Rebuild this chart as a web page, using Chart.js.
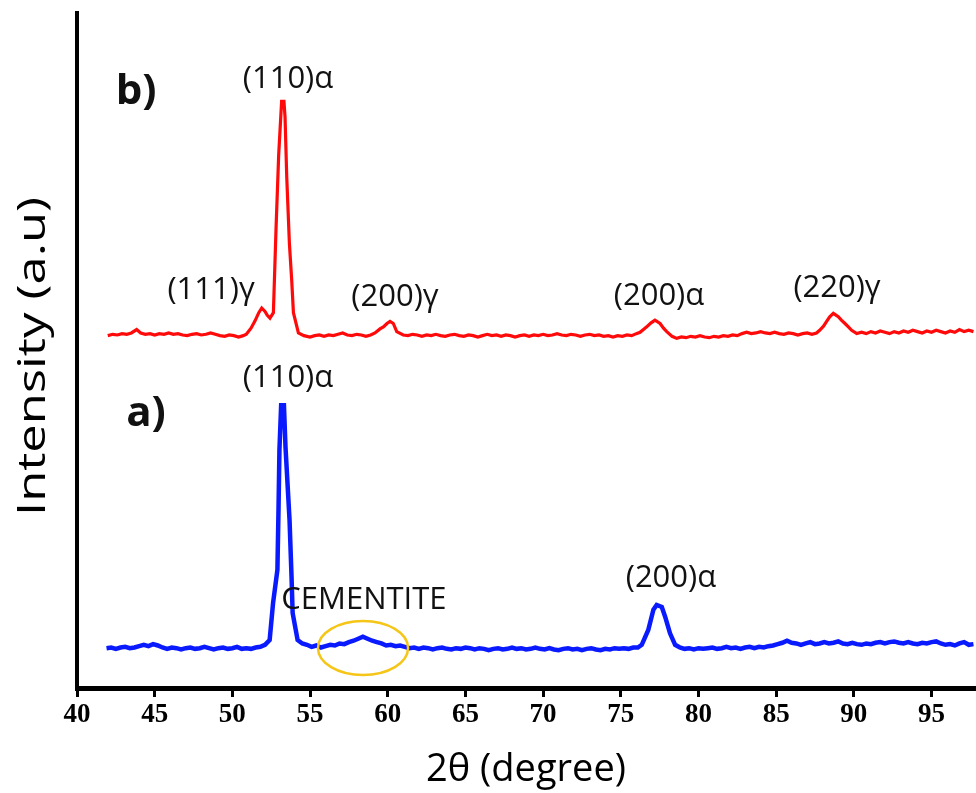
<!DOCTYPE html>
<html>
<head>
<meta charset="utf-8">
<script src="https://cdn.jsdelivr.net/npm/chart.js@4.4.0/dist/chart.umd.min.js"></script>
<style>
  html, body { margin: 0; padding: 0; background: #fff; }
  canvas { display: block; }
</style>
</head>
<body>
<canvas id="xrdChart" width="976" height="793"></canvas>
<script>
// XRD patterns: (a) blue trace, (b) red trace stacked above it
const tickValues = [40, 45, 50, 55, 60, 65, 70, 75, 80, 85, 90, 95];

// sample a) [2theta, intensity]
const sampleA = [
  [41.9, 5.9], [42.2, 6.0], [42.5, 5.8], [42.8, 6.0], [43.1, 6.1], [43.4, 5.9], [43.7, 6.0],
  [44.0, 6.2], [44.3, 6.4], [44.6, 6.2], [44.9, 6.5], [45.2, 6.3], [45.5, 6.0], [45.8, 5.8],
  [46.1, 6.0], [46.4, 5.9], [46.7, 5.7], [47.0, 5.9], [47.3, 6.0], [47.6, 5.8], [47.9, 5.9],
  [48.2, 6.1], [48.5, 5.9], [48.8, 5.7], [49.1, 5.9], [49.4, 6.0], [49.7, 5.8], [50.0, 5.9],
  [50.3, 6.1], [50.6, 5.8], [50.9, 5.9], [51.2, 5.8], [51.5, 6.0], [51.8, 6.1], [52.1, 6.4],
  [52.4, 7.1], [52.62, 12.6], [52.9, 17.5], [52.97, 26.4], [53.03, 35.3], [53.14, 41.9],
  [53.32, 41.9], [53.42, 35.7], [53.68, 24.9], [53.81, 16.4], [53.88, 11.1], [54.2, 7.1],
  [54.5, 6.6], [54.8, 6.4], [55.1, 6.1], [55.4, 6.3], [55.7, 6.0], [56.0, 6.2], [56.3, 6.4],
  [56.6, 6.3], [56.9, 6.6], [57.2, 6.5], [57.5, 6.8], [57.8, 7.0], [58.1, 7.3], [58.4, 7.6],
  [58.7, 7.3], [59.0, 7.0], [59.3, 6.8], [59.6, 6.6], [59.9, 6.3], [60.2, 6.4], [60.5, 6.2],
  [60.8, 6.3], [61.1, 6.1], [61.4, 5.9], [61.7, 6.0], [62.0, 5.8], [62.3, 6.0], [62.6, 5.9],
  [62.9, 5.7], [63.2, 5.9], [63.5, 6.0], [63.8, 5.8], [64.1, 5.7], [64.4, 5.9], [64.7, 5.8],
  [65.0, 6.0], [65.3, 5.9], [65.6, 5.7], [65.9, 5.9], [66.2, 5.8], [66.5, 5.6], [66.8, 5.8],
  [67.1, 5.9], [67.4, 5.7], [67.7, 5.8], [68.0, 6.0], [68.3, 5.8], [68.6, 5.9], [68.9, 5.7],
  [69.2, 5.8], [69.5, 6.0], [69.8, 5.8], [70.1, 5.7], [70.4, 5.9], [70.7, 5.7], [71.0, 5.6],
  [71.3, 5.8], [71.6, 5.9], [71.9, 5.7], [72.2, 5.8], [72.5, 5.6], [72.8, 5.8], [73.1, 5.9],
  [73.4, 5.7], [73.7, 5.6], [74.0, 5.8], [74.3, 5.7], [74.6, 5.9], [74.9, 5.8], [75.2, 5.9],
  [75.5, 5.8], [75.8, 6.0], [76.1, 6.0], [76.35, 6.4], [76.77, 8.6], [77.1, 11.6], [77.31, 12.3],
  [77.64, 12.0], [77.85, 10.6], [78.17, 8.1], [78.5, 6.4], [78.8, 6.0], [79.1, 5.8], [79.4, 5.9],
  [79.7, 5.7], [80.0, 5.9], [80.3, 5.8], [80.6, 5.9], [80.9, 6.0], [81.2, 5.8], [81.5, 5.9],
  [81.8, 6.1], [82.1, 5.9], [82.4, 6.0], [82.7, 5.8], [83.0, 6.0], [83.3, 6.1], [83.6, 5.9],
  [83.9, 6.1], [84.2, 6.0], [84.5, 6.2], [84.8, 6.3], [85.1, 6.5], [85.4, 6.7], [85.7, 7.0],
  [86.0, 6.7], [86.3, 6.6], [86.6, 6.4], [86.9, 6.6], [87.2, 6.8], [87.5, 6.5], [87.8, 6.6],
  [88.1, 6.8], [88.4, 6.6], [88.7, 6.7], [89.0, 6.9], [89.3, 6.6], [89.6, 6.5], [89.9, 6.7],
  [90.2, 6.5], [90.5, 6.4], [90.8, 6.6], [91.1, 6.5], [91.4, 6.7], [91.7, 6.8], [92.0, 6.6],
  [92.3, 6.8], [92.6, 6.9], [92.9, 6.7], [93.2, 6.6], [93.5, 6.8], [93.8, 6.6], [94.1, 6.5],
  [94.4, 6.7], [94.7, 6.6], [95.0, 6.8], [95.3, 6.9], [95.6, 6.6], [95.9, 6.4], [96.2, 6.5],
  [96.5, 6.3], [96.8, 6.6], [97.1, 6.8], [97.4, 6.4], [97.7, 6.5]
];

// sample b) [2theta, intensity]
const sampleB = [
  [41.98, 6.2], [42.3, 6.4], [42.6, 6.3], [42.9, 6.5], [43.2, 6.4], [43.5, 6.6], [43.84, 7.1],
  [44.1, 6.6], [44.4, 6.4], [44.7, 6.5], [45.0, 6.3], [45.3, 6.5], [45.6, 6.4], [45.9, 6.6],
  [46.2, 6.4], [46.5, 6.5], [46.8, 6.3], [47.1, 6.2], [47.4, 6.4], [47.7, 6.5], [48.0, 6.3],
  [48.3, 6.4], [48.6, 6.6], [48.9, 6.4], [49.2, 6.2], [49.5, 6.1], [49.8, 6.3], [50.1, 6.2],
  [50.4, 6.0], [50.7, 6.2], [50.9, 6.4], [51.2, 7.3], [51.46, 8.4], [51.7, 9.6], [51.89, 10.3],
  [52.1, 9.8], [52.25, 9.2], [52.42, 8.8], [52.64, 9.6], [52.81, 22.0], [52.98, 32.9],
  [53.17, 40.9], [53.32, 40.9], [53.39, 38.6], [53.5, 29.7], [53.67, 19.9], [53.82, 14.4],
  [53.93, 9.6], [54.25, 6.6], [54.6, 6.2], [55.0, 6.0], [55.3, 6.2], [55.6, 6.3], [55.9, 6.1],
  [56.2, 6.3], [56.5, 6.2], [56.8, 6.4], [57.1, 6.6], [57.4, 6.3], [57.7, 6.2], [58.0, 6.4],
  [58.3, 6.3], [58.6, 6.1], [58.9, 6.3], [59.18, 6.6], [59.5, 7.2], [59.72, 7.5], [59.95, 8.0],
  [60.15, 8.3], [60.36, 8.0], [60.58, 6.8], [61.0, 6.3], [61.3, 6.2], [61.6, 6.4], [61.9, 6.3],
  [62.2, 6.1], [62.5, 6.3], [62.8, 6.2], [63.1, 6.4], [63.4, 6.2], [63.7, 6.1], [64.0, 6.3],
  [64.3, 6.4], [64.6, 6.2], [64.9, 6.1], [65.2, 6.3], [65.5, 6.2], [65.8, 6.0], [66.1, 6.2],
  [66.4, 6.4], [66.7, 6.2], [67.0, 6.3], [67.3, 6.1], [67.6, 6.3], [67.9, 6.2], [68.2, 6.0],
  [68.5, 6.2], [68.8, 6.3], [69.1, 6.1], [69.4, 6.3], [69.7, 6.2], [70.0, 6.4], [70.3, 6.2],
  [70.6, 6.3], [70.9, 6.5], [71.2, 6.3], [71.5, 6.2], [71.8, 6.4], [72.1, 6.3], [72.4, 6.1],
  [72.7, 6.3], [73.0, 6.4], [73.3, 6.2], [73.6, 6.3], [73.9, 6.1], [74.2, 6.2], [74.5, 6.0],
  [74.8, 6.2], [75.1, 6.1], [75.4, 6.3], [75.7, 6.2], [76.0, 6.5], [76.24, 6.7], [76.5, 7.2],
  [76.67, 7.5], [76.95, 8.1], [77.2, 8.5], [77.53, 8.0], [77.75, 7.3], [77.96, 6.8], [78.3, 6.1],
  [78.6, 5.8], [78.9, 6.0], [79.2, 5.9], [79.5, 6.1], [79.8, 6.0], [80.1, 6.2], [80.4, 6.0],
  [80.7, 5.9], [81.0, 6.1], [81.3, 6.0], [81.6, 6.2], [81.9, 6.1], [82.2, 6.3], [82.5, 6.2],
  [82.8, 6.5], [83.1, 6.7], [83.4, 6.5], [83.7, 6.6], [84.0, 6.8], [84.3, 6.6], [84.6, 6.5],
  [84.9, 6.7], [85.2, 6.5], [85.5, 6.4], [85.8, 6.6], [86.1, 6.5], [86.4, 6.3], [86.7, 6.5],
  [87.0, 6.6], [87.3, 6.4], [87.6, 6.6], [87.8, 7.0], [88.05, 7.6], [88.25, 8.3], [88.45, 9.0],
  [88.68, 9.5], [89.0, 9.0], [89.2, 8.5], [89.43, 8.0], [89.65, 7.5], [89.86, 7.0], [90.19, 6.5],
  [90.5, 6.7], [90.8, 6.5], [91.1, 6.8], [91.4, 6.6], [91.7, 6.9], [92.0, 6.7], [92.3, 6.5],
  [92.6, 6.8], [92.9, 6.6], [93.2, 6.9], [93.5, 6.7], [93.8, 7.0], [94.1, 6.8], [94.4, 6.6],
  [94.7, 6.9], [95.0, 6.7], [95.3, 7.0], [95.6, 6.8], [95.9, 6.6], [96.2, 6.9], [96.5, 6.7],
  [96.8, 7.1], [97.1, 6.8], [97.4, 7.0], [97.7, 6.8]
];

// vertical shift of pattern b) so it sits above a)
const offsetB = 46;

// peak labels, placed in data coordinates
const peakLabels = [
  { text: "b)", x: 43.8, y: 88.3, bold: true },
  { text: "(110)α", x: 53.58, y: 90.2 },
  { text: "(111)γ", x: 48.63, y: 59.0 },
  { text: "(200)γ", x: 60.47, y: 57.9 },
  { text: "(200)α", x: 77.46, y: 58.0 },
  { text: "(220)γ", x: 88.92, y: 59.3 },
  { text: "a)", x: 44.44, y: 40.6, bold: true },
  { text: "(110)α", x: 53.58, y: 45.9 },
  { text: "CEMENTITE", x: 58.47, y: 13.0 },
  { text: "(200)α", x: 78.23, y: 16.3 }
];

// highlight ring around the cementite bump
const cementiteRing = { x: 58.41, y: 5.93, rx: 2.9, ry: 4.0 };

const labelPlugin = {
  id: "peakLabels",
  afterDatasetsDraw(chart) {
    const { ctx, scales: { x, y } } = chart;
    ctx.save();
    ctx.textAlign = "center";
    ctx.textBaseline = "middle";
    ctx.fillStyle = "#111";
    peakLabels.forEach(l => {
      ctx.font = l.bold ? 'bold 42px "Open Sans"' : '31px "Open Sans"';
      ctx.fillText(l.text, x.getPixelForValue(l.x), y.getPixelForValue(l.y));
    });

    const cx = x.getPixelForValue(cementiteRing.x);
    const cy = y.getPixelForValue(cementiteRing.y);
    const rx = x.getPixelForValue(cementiteRing.x + cementiteRing.rx) - cx;
    const ry = cy - y.getPixelForValue(cementiteRing.y + cementiteRing.ry);
    ctx.beginPath();
    ctx.ellipse(cx, cy, rx, ry, 0, 0, Math.PI * 2);
    ctx.strokeStyle = "#F5C518";
    ctx.lineWidth = 2.5;
    ctx.stroke();

    // y axis title, drawn a bit wider than the font
    const area = chart.chartArea;
    ctx.translate(34, (area.top + area.bottom) / 2 + 6);
    ctx.rotate(-Math.PI / 2);
    ctx.scale(1.3, 1);
    ctx.font = '39px "Open Sans"';
    ctx.fillStyle = "#000";
    ctx.fillText("Intensity (a.u)", 0, 0);
    ctx.restore();
  }
};

const ctx = document.getElementById("xrdChart").getContext("2d");

new Chart(ctx, {
  type: "line",
  data: {
    datasets: [
      {
        label: "a)",
        data: sampleA.map(p => ({ x: p[0], y: p[1] })),
        borderColor: "#0a1aff",
        borderWidth: 4.5,
        pointRadius: 0,
        tension: 0
      },
      {
        label: "b)",
        data: sampleB.map(p => ({ x: p[0], y: p[1] + offsetB })),
        borderColor: "#ff0a0a",
        borderWidth: 3.2,
        pointRadius: 0,
        tension: 0
      }
    ]
  },
  options: {
    responsive: false,
    animation: false,
    layout: { padding: { top: 13, right: 1, left: 0, bottom: 0 } },
    plugins: {
      legend: { display: false },
      tooltip: { enabled: false }
    },
    scales: {
      x: {
        type: "linear",
        min: 40,
        max: 97.8,
        afterFit(scale) { scale.height = 105; },
        afterBuildTicks(scale) { scale.ticks = tickValues.map(v => ({ value: v })); },
        border: { display: true, color: "#000", width: 5 },
        grid: {
          display: true,
          drawOnChartArea: false,
          drawTicks: true,
          tickLength: 9,
          tickWidth: 3,
          tickColor: "#000"
        },
        ticks: {
          color: "#000",
          padding: 2,
          maxRotation: 0,
          font: { family: '"Liberation Serif"', size: 27, weight: "bold" }
        },
        title: {
          display: true,
          text: "2θ (degree)",
          color: "#000",
          padding: { top: 0, bottom: 0 },
          font: { family: '"Open Sans"', size: 38 }
        }
      },
      y: {
        min: 0,
        max: 100,
        afterFit(scale) { scale.width = 77; },
        border: { display: true, color: "#000", width: 4 },
        grid: { display: false },
        ticks: { display: false }
      }
    }
  },
  plugins: [labelPlugin]
});
</script>
</body>
</html>
